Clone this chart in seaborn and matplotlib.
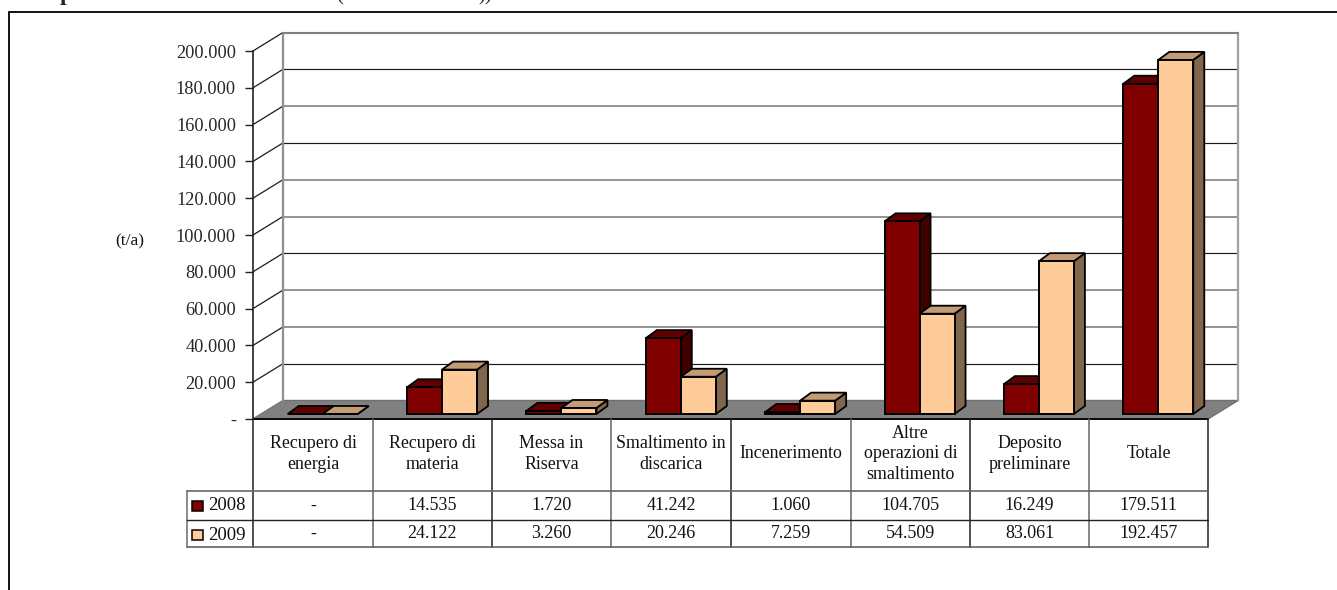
# dependencies
import pandas as pd
import seaborn as sns
import matplotlib.pyplot as plt
from matplotlib.patches import Polygon, Rectangle

categorie = ['Recupero di\nenergia', 'Recupero di\nmateria', 'Messa in\nRiserva',
             'Smaltimento in\ndiscarica', 'Incenerimento',
             'Altre\noperazioni di\nsmaltimento', 'Deposito\npreliminare', 'Totale']
anni = ['2008', '2009']
valori_2008 = [0, 14535, 1720, 41242, 1060, 104705, 16249, 179511]
valori_2009 = [0, 24122, 3260, 20246, 7259, 54509, 83061, 192457]
tick_valori = list(range(0, 200001, 20000))

col_front = ['#800000', '#FFCC99']
col_top = ['#620000', '#C39B74']
col_side = ['#400000', '#7F664C']

W, H = 1337, 590
LINEA = '#808080'

sns.set_style('white')
plt.rcParams['font.family'] = ['Liberation Serif', 'DejaVu Serif']


def fmt(v):
    return '-' if v == 0 else f'{v:,}'.replace(',', '.')


def pixel_axes(fig, left, top, right, bottom):
    return fig.add_axes([left / W, 1 - bottom / H, (right - left) / W, (bottom - top) / H])


df = pd.DataFrame({
    'categoria': categorie * 2,
    'valore': valori_2008 + valori_2009,
    'anno': [anni[0]] * 8 + [anni[1]] * 8,
})

fig = plt.figure(figsize=(W / 100, H / 100), dpi=100)

# page: frame, table and cut off title, in pixels
page = fig.add_axes([0, 0, 1, 1], zorder=3)
page.set_xlim(0, W)
page.set_ylim(H, 0)
page.axis('off')
page.patch.set_alpha(0)
page.plot([9, 9, W], [H, 12, 12], color='black', lw=1.3, solid_joinstyle='miter')
page.text(66, 0, 'p', fontsize=17, fontweight='bold', ha='center', va='baseline')
page.text(340, 0, '(', fontsize=15, ha='center', va='baseline')
page.text(485, 0, '))', fontsize=15, ha='center', va='baseline')
page.text(130, 241, '(t/a)', fontsize=12.5, ha='center', va='center', color='#111111')

# wall: the front plane with the value axis, floor and back wall
wall = pixel_axes(fig, 253, 51, 1208, 419)
wall.set_xlim(-0.5, 7.5)
wall.set_ylim(0, 200000)
wall.patch.set_alpha(0)
sns.despine(ax=wall, top=True, right=True, bottom=True)
wall.spines['left'].set_color('#222222')
wall.spines['left'].set_linewidth(1.2)
wall.set_xticks([])
wall.set_yticks(tick_valori)
wall.set_yticklabels([fmt(v) for v in tick_valori], fontsize=13.2)
wall.tick_params(axis='y', left=True, length=5.8, width=1, pad=6.5, color='#222222')

dx = 30 / (1208 - 253) * 8
dy = 18.5 / 368 * 200000
wall.add_patch(Polygon([(-0.5, 0), (7.5, 0), (7.5 + dx, dy), (-0.5 + dx, dy)],
                       facecolor='#808080', edgecolor='#707070', lw=1, clip_on=False, zorder=1))
for i, t in enumerate(tick_valori):
    # the gridlines come out either black or grey in the source
    grigia = i in (0, 2, 3, 5, 6, 8, 10)
    c = '#8a8a8a' if grigia else '#1a1a1a'
    if i > 0:
        wall.plot([-0.5 + dx, 7.5 + dx], [t + dy, t + dy], color=c, lw=1.3 if grigia else 0.85,
                  clip_on=False, zorder=1)
    wall.plot([-0.5, -0.5 + dx], [t, t + dy], color=LINEA if i == 0 else '#1a1a1a', lw=0.9,
              clip_on=False, zorder=1)
wall.plot([-0.5 + dx, -0.5 + dx], [dy, 200000 + dy], color='#909090', lw=1.6, clip_on=False, zorder=1)
wall.plot([7.5 + dx, 7.5 + dx], [dy, 200000 + dy], color='#a0a0a0', lw=1.6, clip_on=False, zorder=1)
wall.plot([-0.5 + dx, 7.5 + dx], [200000 + dy, 200000 + dy], color=LINEA, lw=1.5, clip_on=False, zorder=1)
wall.plot([-0.5, 7.5], [0, 0], color='black', lw=1.3, clip_on=False, zorder=2)

# bars: sit half way into the floor
ax = pixel_axes(fig, 263, 46, 1218, 414)
ax.patch.set_alpha(0)
sns.barplot(data=df, x='categoria', y='valore', hue='anno', order=categorie, hue_order=anni,
            palette=col_front, width=0.586, gap=0, dodge=True, saturation=1, legend=False,
            edgecolor='black', linewidth=1.4, ax=ax)
ax.set_xlim(-0.5, 7.5)
ax.set_ylim(0, 200000)
ax.axis('off')

bx = 11 / (1218 - 263) * 8
by = 8 / 368 * 200000
z = 5
for i in range(len(categorie)):
    for s, cont in enumerate(ax.containers):
        bar = cont[i]
        x0, x1 = bar.get_x(), bar.get_x() + bar.get_width()
        h = bar.get_height()
        ax.add_patch(Polygon([(x1, 0), (x1 + bx, by), (x1 + bx, h + by), (x1, h)], facecolor=col_side[s],
                             edgecolor='black', lw=1.3, clip_on=False, zorder=z))
        ax.add_patch(Polygon([(x0, h), (x0 + bx, h + by), (x1 + bx, h + by), (x1, h)], facecolor=col_top[s],
                             edgecolor='black', lw=1.3, clip_on=False, zorder=z + 1))
        bar.set_zorder(z + 2)
        bar.set_clip_on(False)
        z += 3

# data table under the chart
col_x = [253, 373, 492, 611, 731, 851, 970, 1089, 1208]
righe_y = [419, 491, 520, 547]
for i, x in enumerate(col_x):
    page.plot([x, x], [righe_y[0], righe_y[-1]], color='#666666' if i % 2 else '#222222', lw=1.1)
page.plot([187, 187], [righe_y[1], righe_y[-1]], color='#777777', lw=1.2)
page.plot([187, 1208], [righe_y[1]] * 2, color='#666666', lw=1.2)
page.plot([187, 1208], [righe_y[2]] * 2, color='#222222', lw=1)
page.plot([187, 1208], [righe_y[3]] * 2, color='#555555', lw=1.1)

for i, nome in enumerate(categorie):
    cx = (col_x[i] + col_x[i + 1]) / 2
    page.text(cx, 454, nome, fontsize=12.9, ha='center', va='center', linespacing=1.3, color='#111111')
    page.text(cx, 506, fmt(valori_2008[i]), fontsize=13, ha='center', va='center', color='#111111')
    page.text(cx, 534, fmt(valori_2009[i]), fontsize=13, ha='center', va='center', color='#111111')

for s, (anno, y) in enumerate(zip(anni, [506, 535])):
    page.add_patch(Rectangle((192, y - 5), 11, 10, facecolor=col_front[s], edgecolor='black', lw=1.1))
    page.text(208, y, anno, fontsize=13.5, ha='left', va='center', color='#111111')

fig.savefig('out.png', dpi=100)
